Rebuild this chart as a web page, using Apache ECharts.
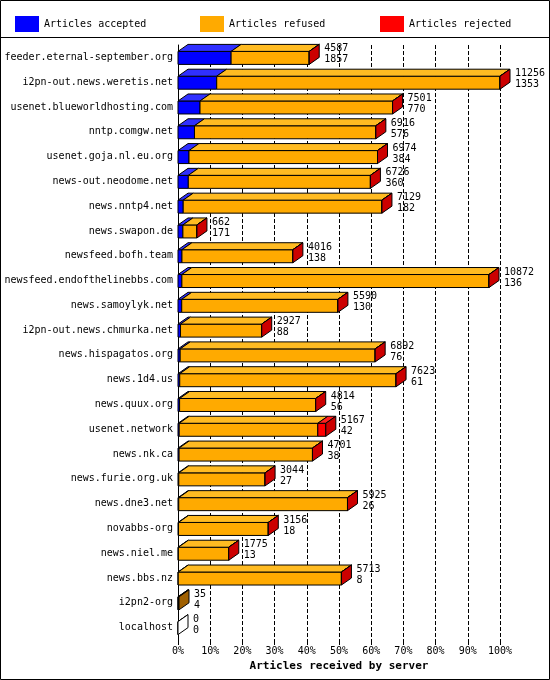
<!DOCTYPE html>
<html><head><meta charset="utf-8">
<script src="https://cdn.jsdelivr.net/npm/echarts@6/dist/echarts.min.js"></script>
<style>html,body{margin:0;background:#fff}#c{width:550px;height:680px}</style>
</head><body><div id="c"></div>
<script>
// servers, top to bottom
const servers = ['feeder.eternal-september.org','i2pn-out.news.weretis.net','usenet.blueworldhosting.com','nntp.comgw.net','usenet.goja.nl.eu.org','news-out.neodome.net','news.nntp4.net','news.swapon.de','newsfeed.bofh.team','newsfeed.endofthelinebbs.com','news.samoylyk.net','i2pn-out.news.chmurka.net','news.hispagatos.org','news.1d4.us','news.quux.org','usenet.network','news.nk.ca','news.furie.org.uk','news.dne3.net','novabbs-org','news.niel.me','news.bbs.nz','i2pn2-org','localhost'];
const totals = [4587,11256,7501,6916,6974,6726,7129,662,4016,10872,5590,2927,6892,7623,4814,5167,4701,3044,5925,3156,1775,5713,35,0];
const accepted = [1857,1353,770,576,384,360,182,171,138,136,130,88,76,61,56,42,38,27,26,18,13,8,4,0];
const rejected = [0,0,0,0,0,0,0,0,0,0,0,0,0,0,0,280,0,0,0,0,0,0,0,0];
const xTicks = ['0%','10%','20%','30%','40%','50%','60%','70%','80%','90%','100%'];
const legendNames = ['Articles accepted', 'Articles refused', 'Articles rejected'];

const maxTotal = Math.max(...totals);
const pct = v => v / maxTotal * 100;
const FONT = 'DejaVu Sans Mono';
const DX = 10, DY = -7;

function segData(which) {
  return servers.map((s, i) => {
    const a = pct(accepted[i]), r = pct(rejected[i]);
    const f = pct(totals[i] - accepted[i] - rejected[i]);
    if (which === 0) return [i, 0, a];
    if (which === 1) return [i, a, a + f];
    return [i, a + f, a + f + r];
  });
}

function render(color, top, last) {
  return function (params, api) {
    const i = api.value(0);
    const p0 = api.coord([api.value(1), i]);
    const p1 = api.coord([api.value(2), i]);
    const y0 = p0[1] - 6, h = 13;
    const w = p1[0] - p0[0];
    const ch = [];
    if (w > 0.01 || last) {
      ch.push({type: 'rect', shape: {x: p0[0], y: y0, width: w, height: h},
        style: {fill: color, stroke: '#000', lineWidth: 1}});
      ch.push({type: 'polygon', shape: {points: [[p0[0], y0], [p0[0] + DX, y0 + DY], [p1[0] + DX, y0 + DY], [p1[0], y0]]},
        style: {fill: top, stroke: '#000', lineWidth: 1}});
    }
    if (last) {
      const t = totals[i];
      const cap = t === 0 ? '#fff' : (t < 100 ? '#a06000' : '#cc0000');
      ch.push({type: 'polygon', shape: {points: [[p1[0], y0], [p1[0] + DX, y0 + DY], [p1[0] + DX, y0 + DY + h], [p1[0], y0 + h]]},
        style: {fill: cap, stroke: '#000', lineWidth: 1}});
      ch.push({type: 'text', x: p1[0] + DX + 5, y: y0 - 8,
        style: {text: totals[i] + '\n' + accepted[i], font: '10px ' + FONT, fill: '#000', lineHeight: 11}});
    }
    return {type: 'group', children: ch};
  };
}

const legendLefts = [10, 195, 375];
const chart = echarts.init(document.getElementById('c'));
chart.setOption({
  animation: false,
  textStyle: {fontFamily: FONT},
  legend: legendNames.map((n, k) => ({
    top: 11, left: legendLefts[k], itemWidth: 24, itemHeight: 16, icon: 'rect',
    textStyle: {fontFamily: FONT, fontSize: 10, color: '#000'}, data: [n]
  })),
  grid: {left: 178, right: 50, top: 45, bottom: 40, outerBoundsMode: 'none', containLabel: false},
  xAxis: {
    type: 'value', min: 0, max: 100, interval: 10,
    name: 'Articles received by server', nameLocation: 'middle', nameGap: 21,
    nameTextStyle: {fontFamily: FONT, fontWeight: 'bold', fontSize: 11, color: '#000'},
    axisLine: {lineStyle: {color: '#000'}},
    axisTick: {show: true, lineStyle: {color: '#000'}},
    axisLabel: {fontFamily: FONT, fontSize: 10, color: '#000', margin: 6,
      formatter: (v) => xTicks[Math.round(v / 10)]},
    splitLine: {show: true, lineStyle: {color: '#000', type: 'dashed'}}
  },
  yAxis: {
    type: 'category', data: servers, inverse: true,
    axisLine: {lineStyle: {color: '#000'}},
    axisTick: {show: false},
    axisLabel: {fontFamily: FONT, fontSize: 10, color: '#000', margin: 5}
  },
  series: [
    {name: legendNames[0], type: 'custom', itemStyle: {color: '#0000ff'},
      renderItem: render('#0000ff', '#3030ff', false), data: segData(0)},
    {name: legendNames[1], type: 'custom', itemStyle: {color: '#ffaa00'},
      renderItem: render('#ffaa00', '#ffbb22', false), data: segData(1)},
    {name: legendNames[2], type: 'custom', itemStyle: {color: '#ff0000'},
      renderItem: render('#ff0000', '#ff2020', true), data: segData(2)}
  ],
  graphic: [
    {type: 'rect', shape: {x: 0.5, y: 0.5, width: 549, height: 679}, style: {fill: 'none', stroke: '#000'}},
    {type: 'line', shape: {x1: 0, y1: 37.5, x2: 550, y2: 37.5}, style: {stroke: '#000'}}
  ]
});
</script></body></html>
